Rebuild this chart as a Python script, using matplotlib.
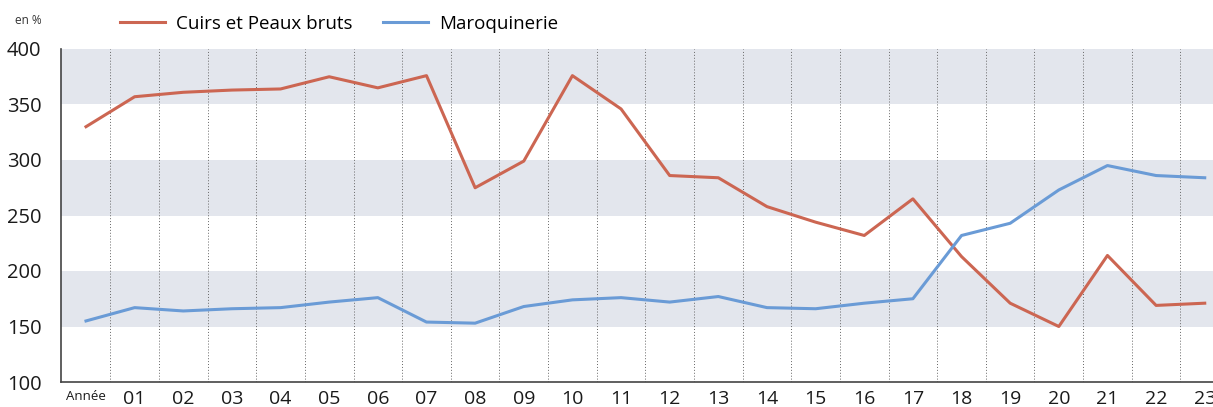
import matplotlib.pyplot as plt
import numpy as np

plt.rcParams['font.family'] = ['Open Sans', 'DejaVu Sans']

annees = ['Année', '01', '02', '03', '04', '05', '06', '07', '08', '09', '10', '11',
          '12', '13', '14', '15', '16', '17', '18', '19', '20', '21', '22', '23']
cuirs = [330, 357, 361, 363, 364, 375, 365, 376, 275, 299, 376, 346,
         286, 284, 258, 244, 232, 265, 213, 171, 150, 214, 169, 171]
maroq = [155, 167, 164, 166, 167, 172, 176, 154, 153, 168, 174, 176,
         172, 177, 167, 166, 171, 175, 232, 243, 273, 295, 286, 284]

red = '#cc6652'
blue = '#6a9bd6'

fig = plt.figure(figsize=(12.13, 4.07), dpi=100)
ax = fig.add_axes([61/1213, 25/407, 1 - 61/1213, 333/407])

x = np.arange(len(annees))
for lo in [150, 250, 350]:
    ax.axhspan(lo, lo + 50, color='#e3e6ed', zorder=0, lw=0)
for xv in x[:-1] + 0.5:
    ax.axvline(xv, color='#666666', lw=0.7, ls=(0, (1, 2)), zorder=1)

l1, = ax.plot(x, cuirs, color=red, lw=2.2, zorder=3, label='Cuirs et Peaux bruts')
l2, = ax.plot(x, maroq, color=blue, lw=2.2, zorder=3, label='Maroquinerie')

ax.set_xlim(-0.514, 23.17)
ax.set_ylim(100, 400)
ax.set_yticks([100, 150, 200, 250, 300, 350, 400])
ax.tick_params(axis='y', length=0, pad=14, labelsize=14.5, colors='#1a1a1a')
for t in ax.get_yticklabels():
    t.set_fontweight('medium')
ax.set_xticks(x)
ax.set_xticklabels(annees)
ax.tick_params(axis='x', length=0, pad=6, labelsize=14, colors='#1a1a1a')
ax.get_xticklabels()[0].set_fontsize(9.5)

for s in ['top', 'right']:
    ax.spines[s].set_visible(False)
for s in ['left', 'bottom']:
    ax.spines[s].set_color('#444444')
    ax.spines[s].set_linewidth(1.2)

fig.text(15/1213, 1 - 20/407, 'en %', fontsize=8.5, color='#333333', va='center')
fig.legend(handles=[l1, l2], loc='center left', bbox_to_anchor=(103/1213, 1 - 24/407),
           ncol=2, frameon=False, handlelength=2.4, columnspacing=1.6,
           handletextpad=0.6, prop={'weight': 'medium', 'size': 13.5})

fig.savefig('out.png', dpi=100)
